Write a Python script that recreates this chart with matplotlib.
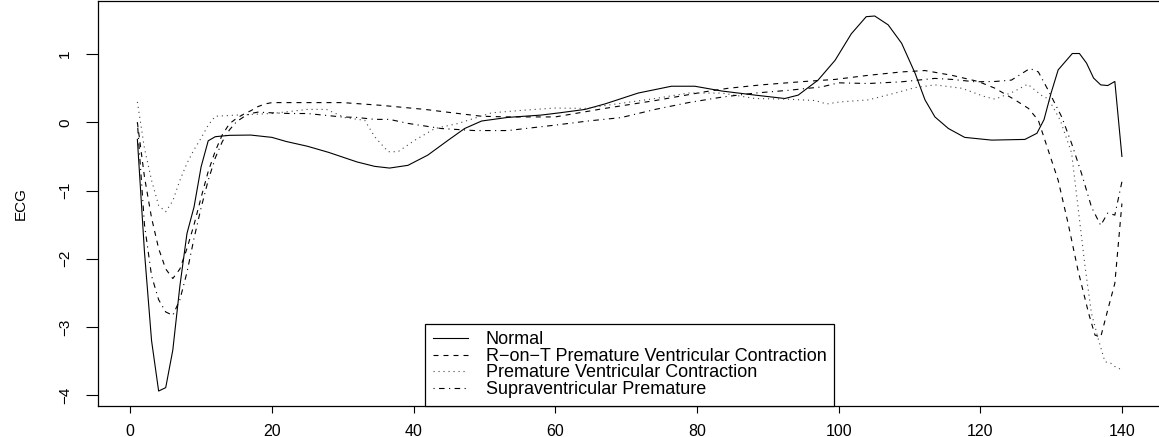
import matplotlib
matplotlib.use("Agg")
import matplotlib.pyplot as plt

plt.rc('font', family='Liberation Sans', size=11)
plt.rc('axes', linewidth=0.9)

labels = ["Normal",
          "R\u2212on\u2212T Premature Ventricular Contraction",
          "Premature Ventricular Contraction",
          "Supraventricular Premature"]

# Normal (solid)
normal_x = [1, 2, 3, 4, 5, 6, 7, 8, 9, 10, 11, 12, 14, 17, 20, 22, 25, 28, 30, 32,
            34.5, 36.6, 39.2, 42, 44.9, 47.2, 49.6, 53.3, 58, 60.6, 64.2, 67, 71.7, 76.4,
            79.7, 83.5, 88.2, 92.4, 94.3, 97.1, 99.5, 101.8, 103.9, 105.1, 107, 108.9,
            110.8, 112.2, 113.6, 115.5, 117.8, 121.6, 126.3, 128, 129, 130, 131, 133, 134,
            135, 136, 137, 138, 139, 140]
normal_y = [-0.25, -1.9, -3.2, -3.94, -3.89, -3.34, -2.4, -1.63, -1.24, -0.65, -0.27, -0.21,
            -0.19, -0.186, -0.22, -0.28, -0.35, -0.44, -0.51, -0.58, -0.645, -0.67, -0.63,
            -0.48, -0.26, -0.09, 0.02, 0.073, 0.107, 0.14, 0.19, 0.27, 0.43, 0.53, 0.53,
            0.46, 0.40, 0.35, 0.40, 0.62, 0.91, 1.30, 1.55, 1.56, 1.43, 1.16, 0.72, 0.33,
            0.08, -0.09, -0.22, -0.26, -0.25, -0.16, 0.04, 0.43, 0.77, 1.01, 1.01, 0.87,
            0.65, 0.55, 0.54, 0.60, -0.50]

# R-on-T premature ventricular contraction (dashed)
ront_x = [1, 2, 3, 4, 5, 6, 7, 8, 9, 10, 11, 12, 13, 14, 15, 16, 17, 18, 19, 20, 25, 30,
          35.4, 41.6, 46.3, 49.6, 53.3, 60, 67, 74.1, 81.2, 84.4, 89.1, 95.2, 99.5, 104.2,
          108.9, 112.2, 116, 119.7, 122.1, 124.9, 126.8, 128.2, 129.6, 131, 132.4, 133.8,
          135.3, 136.2, 137, 138, 139, 140]
ront_y = [0.0, -0.8, -1.4, -1.85, -2.15, -2.29, -2.15, -1.85, -1.5, -1.1, -0.72, -0.42,
          -0.18, -0.02, 0.06, 0.12, 0.17, 0.23, 0.27, 0.29, 0.29, 0.29, 0.25, 0.19, 0.13,
          0.09, 0.08, 0.08, 0.205, 0.32, 0.45, 0.50, 0.55, 0.60, 0.63, 0.69, 0.74, 0.76,
          0.69, 0.60, 0.50, 0.33, 0.205, 0.03, -0.41, -0.85, -1.48, -2.17, -2.80, -3.12,
          -3.15, -2.75, -2.36, -1.19]

# Premature ventricular contraction (dotted)
pvc_x = [1, 2, 3, 4, 5, 6, 7, 8, 9, 10, 11, 12, 15, 20, 25, 27.7, 30.3, 33.1, 34.5, 36.4,
         37.8, 40.2, 43, 46.3, 51, 55.7, 59.9, 64.2, 69.3, 74.1, 78.8, 83.5, 88.2, 92.9,
         96.7, 98.3, 100.2, 104.2, 108, 110.8, 113.6, 117.4, 120.7, 122.1, 124.7, 126.7,
         128.9, 129.6, 131.3, 132.9, 133.8, 134.8, 135.7, 136.7, 137.6, 138.4, 139, 140]
pvc_y = [0.30, -0.38, -0.85, -1.22, -1.31, -1.15, -0.85, -0.60, -0.40, -0.23, -0.04, 0.09,
         0.107, 0.13, 0.19, 0.19, 0.07, 0.03, -0.21, -0.43, -0.43, -0.26, -0.09, -0.015,
         0.14, 0.18, 0.21, 0.205, 0.28, 0.35, 0.43, 0.43, 0.35, 0.34, 0.32, 0.27, 0.30,
         0.33, 0.43, 0.51, 0.55, 0.50, 0.375, 0.34, 0.45, 0.56, 0.375, 0.35, 0.03, -0.45,
         -1.24, -2.12, -2.80, -3.19, -3.51, -3.53, -3.58, -3.63]

# Supraventricular premature (dot-dash)
svp_x = [1, 2, 3, 4, 5, 6, 7, 8, 9, 10, 11, 12, 13, 14, 15, 16, 17, 18, 20, 22.5, 25, 27.2,
         29.8, 31.9, 34.5, 36.6, 39.2, 43.9, 48.6, 53.3, 60, 64.6, 69.3, 74.1, 78.8, 83.5,
         88.2, 92.9, 97.6, 100, 104.2, 108.9, 113.6, 116, 119.3, 122.1, 124.4, 127, 128.2,
         129.6, 131.5, 132.9, 134.3, 135.7, 137, 138, 139, 140]
svp_y = [0.0, -1.5, -2.25, -2.6, -2.78, -2.83, -2.6, -2.2, -1.7, -1.25, -0.85, -0.52, -0.28,
         -0.11, 0.01, 0.08, 0.13, 0.15, 0.14, 0.13, 0.13, 0.107, 0.08, 0.073, 0.044, 0.044,
         -0.015, -0.09, -0.12, -0.12, -0.04, 0.02, 0.07, 0.19, 0.29, 0.37, 0.43, 0.47,
         0.52, 0.58, 0.57, 0.595, 0.645, 0.63, 0.595, 0.60, 0.62, 0.79, 0.74, 0.47, 0.08,
         -0.31, -0.75, -1.24, -1.51, -1.33, -1.36, -0.87]

x_ticks = [0, 20, 40, 60, 80, 100, 120, 140]
y_ticks = [-4, -3, -2, -1, 0, 1]

fig = plt.figure(figsize=(11.59, 4.37), dpi=100)
ax = fig.add_axes([98 / 1159, 1 - 405.7 / 437, (1161.3 - 98) / 1159, 404.7 / 437])

lw = 0.8
ax.plot(normal_x, normal_y, color='black', lw=lw, linestyle='-', label=labels[0])
ax.plot(ront_x, ront_y, color='black', lw=lw, linestyle=(0, (4.5, 4.5)), label=labels[1])
ax.plot(pvc_x, pvc_y, color='#444444', lw=lw, linestyle=(0, (1, 3.5)), label=labels[2])
ax.plot(svp_x, svp_y, color='black', lw=lw, linestyle=(0, (1, 4, 5, 4)), label=labels[3])

ax.set_xlim(-4.56, 145.56)
ax.set_ylim(-4.155, 1.78)
ax.set_xticks(x_ticks)
ax.set_yticks(y_ticks)
ax.tick_params(axis='x', length=5, width=0.8, pad=8, labelsize=11.5)
ax.tick_params(axis='y', length=8.5, width=0.8, pad=10, labelsize=11, labelrotation=90)
for t in ax.get_yticklabels():
    t.set_va('center')

ax.set_ylabel("ECG", fontsize=11)
ax.yaxis.set_label_coords(-0.066, 0.5)

leg = ax.legend(loc='lower center', borderaxespad=0, fontsize=13, handlelength=1.95,
                handletextpad=1.0, labelspacing=-0.02, borderpad=0.42,
                fancybox=False, framealpha=1, edgecolor='black')
leg.get_frame().set_linewidth(0.9)

fig.savefig("out.png", dpi=100)
